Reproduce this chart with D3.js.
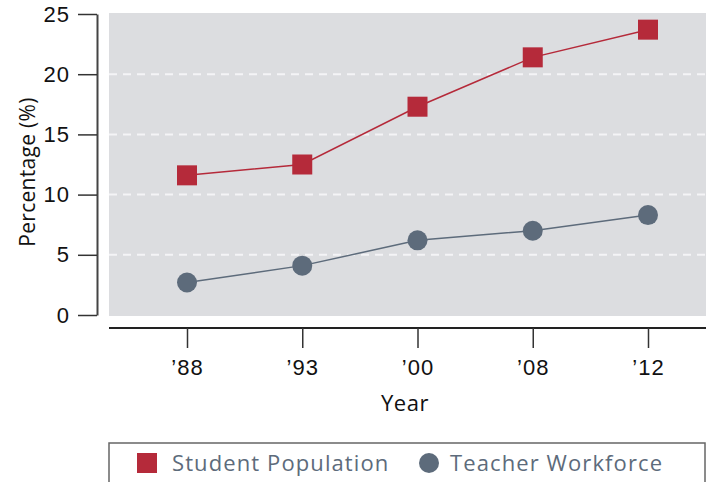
<!DOCTYPE html>
<html>
<head>
<meta charset="utf-8">
<script src="https://cdn.jsdelivr.net/npm/d3@7"></script>
<style>
  html, body { margin: 0; padding: 0; background: #fff; }
  svg { display: block; font-family: "Open Sans", "Noto Sans", sans-serif; }
</style>
</head>
<body>
<svg id="chart" width="710" height="482"></svg>
<script>
// data
const years = ["’88", "’93", "’00", "’08", "’12"];
const studentPopulation = [11.6, 12.5, 17.3, 21.4, 23.7];
const teacherWorkforce = [2.7, 4.1, 6.2, 7.0, 8.3];
const yTicks = [0, 5, 10, 15, 20, 25];

const red = "#b52a3a";
const slate = "#5d6b7b";

const svg = d3.select("#chart");

// scales
const x = d3.scalePoint().domain(years).range([187, 648]);
const y = d3.scaleLinear().domain([0, 25]).range([315, 14]);

// plot background
svg.append("rect")
    .attr("x", 109).attr("y", 13)
    .attr("width", 597).attr("height", 303)
    .attr("fill", "#dcdde0");

// dashed white grid lines
svg.append("g")
    .selectAll("line")
    .data(yTicks.filter(d => d > 0 && d < 25))
    .join("line")
    .attr("x1", 109).attr("x2", 706)
    .attr("y1", d => y(d)).attr("y2", d => y(d))
    .attr("stroke", "#f4f4f6")
    .attr("stroke-width", 2)
    .attr("stroke-dasharray", "8,6");

// y axis
const axisY = svg.append("g")
    .attr("transform", "translate(97,0)")
    .call(d3.axisLeft(y).tickValues(yTicks).tickSize(19).tickPadding(8).tickSizeOuter(0));
axisY.select(".domain").attr("stroke", "#444").attr("stroke-width", 2);
axisY.selectAll(".tick line").attr("stroke", "#333").attr("stroke-width", 1.5);
axisY.selectAll(".tick text")
    .attr("fill", "#111")
    .style("font-size", "22px")
    .style("font-weight", 500)
    .style("letter-spacing", "1px");

// y axis title
svg.append("text")
    .attr("transform", "translate(35,172) rotate(-90)")
    .attr("text-anchor", "middle")
    .attr("fill", "#111")
    .style("font-size", "21px")
    .style("font-weight", 500)
    .style("letter-spacing", "0.3px")
    .text("Percentage (%)");

// x axis
const axisX = svg.append("g")
    .attr("transform", "translate(0,328)")
    .call(d3.axisBottom(x).tickSize(20).tickPadding(11).tickSizeOuter(0));
axisX.select(".domain").attr("d", "M109,0H706").attr("stroke", "#222").attr("stroke-width", 2);
axisX.selectAll(".tick line").attr("stroke", "#333").attr("stroke-width", 1.5);
axisX.selectAll(".tick text")
    .attr("fill", "#111")
    .style("font-size", "22px")
    .style("font-weight", 500)
    .style("letter-spacing", "1px");

// x axis title
svg.append("text")
    .attr("x", 405).attr("y", 411)
    .attr("text-anchor", "middle")
    .attr("fill", "#111")
    .style("font-size", "22px")
    .style("font-weight", 500)
    .style("letter-spacing", "0.5px")
    .text("Year");

// lines
const line = d3.line().x((d, i) => x(years[i])).y(d => y(d));

svg.append("path")
    .datum(studentPopulation)
    .attr("d", line)
    .attr("fill", "none")
    .attr("stroke", red)
    .attr("stroke-width", 1.5);

svg.append("path")
    .datum(teacherWorkforce)
    .attr("d", line)
    .attr("fill", "none")
    .attr("stroke", slate)
    .attr("stroke-width", 1.5);

// markers
svg.append("g")
    .selectAll("rect")
    .data(studentPopulation)
    .join("rect")
    .attr("x", (d, i) => x(years[i]) - 10)
    .attr("y", d => y(d) - 10)
    .attr("width", 20).attr("height", 20)
    .attr("fill", red);

svg.append("g")
    .selectAll("circle")
    .data(teacherWorkforce)
    .join("circle")
    .attr("cx", (d, i) => x(years[i]))
    .attr("cy", d => y(d))
    .attr("r", 10)
    .attr("fill", slate);

// legend
const legend = svg.append("g");
legend.append("rect")
    .attr("x", 109).attr("y", 443)
    .attr("width", 596).attr("height", 60)
    .attr("fill", "none")
    .attr("stroke", "#666")
    .attr("stroke-width", 1.5);
legend.append("rect")
    .attr("x", 137).attr("y", 453)
    .attr("width", 20).attr("height", 20)
    .attr("fill", red);
legend.append("text")
    .attr("x", 172).attr("y", 471)
    .attr("fill", slate)
    .style("font-size", "22px")
    .style("font-weight", 500)
    .style("letter-spacing", "1.1px")
    .text("Student Population");
legend.append("circle")
    .attr("cx", 429).attr("cy", 463)
    .attr("r", 10)
    .attr("fill", slate);
legend.append("text")
    .attr("x", 450).attr("y", 471)
    .attr("fill", slate)
    .style("font-size", "22px")
    .style("font-weight", 500)
    .style("letter-spacing", "1.1px")
    .text("Teacher Workforce");
</script>
</body>
</html>
